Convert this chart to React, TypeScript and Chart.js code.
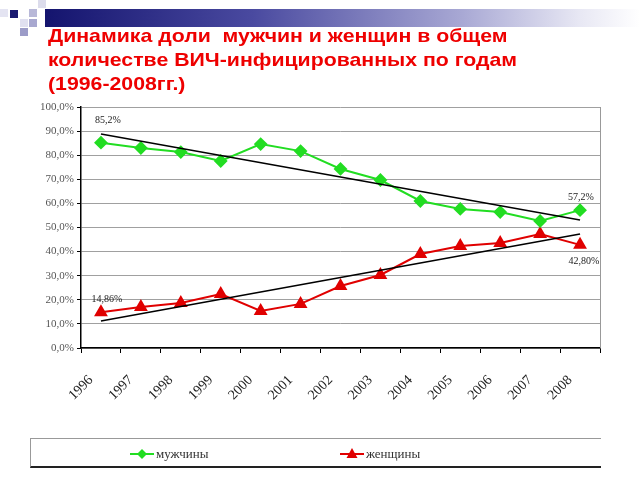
import React, { useEffect, useRef } from "react";
import { Chart, registerables } from "chart.js";

Chart.register(...registerables);

const years = ["1996", "1997", "1998", "1999", "2000", "2001", "2002", "2003", "2004", "2005", "2006", "2007", "2008"];
const men = [85.2, 83.0, 81.3, 77.6, 84.6, 81.7, 74.3, 69.7, 61.0, 57.7, 56.4, 52.7, 57.2];
const women = [14.86, 17.0, 18.7, 22.4, 15.4, 18.3, 25.7, 30.3, 39.0, 42.3, 43.6, 47.3, 42.8];
const menTrend = [88.8, null, null, null, null, null, null, null, null, null, null, null, 53.1];
const womenTrend = [11.2, null, null, null, null, null, null, null, null, null, null, null, 47.3];
const menLabels = ["85,2%", "", "", "", "", "", "", "", "", "", "", "", "57,2%"];
const womenLabels = ["14,86%", "", "", "", "", "", "", "", "", "", "", "", "42,80%"];
const titleLines = ["Динамика доли  мужчин и женщин в общем", "количестве ВИЧ-инфицированных по годам", "(1996-2008гг.)"];
const legendNames = ["мужчины", "женщины"];

const MEN_COLOR = "#22dd22";
const WOMEN_COLOR = "#e00000";

const valueLabels = {
  id: "valueLabels",
  afterDatasetsDraw(chart: any) {
    const ctx = chart.ctx;
    ctx.save();
    ctx.font = '10px "Liberation Serif"';
    ctx.fillStyle = "#222";
    ctx.textAlign = "center";
    ctx.textBaseline = "middle";
    const draw = (dsIndex: number, labels: string[], offs: Record<number, [number, number]>) => {
      const meta = chart.getDatasetMeta(dsIndex);
      labels.forEach((t, i) => {
        if (!t) return;
        const p = meta.data[i];
        const o = offs[i] || [0, -12];
        ctx.fillText(t, p.x + o[0], p.y + o[1]);
      });
    };
    draw(2, menLabels, { 0: [7, -22], 12: [1, -13] });
    draw(3, womenLabels, { 0: [6, -13], 12: [4, 17] });
    ctx.restore();
  },
  beforeDatasetsDraw(chart: any) {
    const { ctx, chartArea } = chart;
    ctx.save();
    ctx.strokeStyle = "#999";
    ctx.lineWidth = 1;
    ctx.beginPath();
    ctx.moveTo(Math.round(chartArea.right) + 0.5, chartArea.top);
    ctx.lineTo(Math.round(chartArea.right) + 0.5, chartArea.bottom);
    ctx.stroke();
    ctx.restore();
  },
};

function Squares() {
  const sq: [number, number, string][] = [
    [0, 9, "#e4e4f2"],
    [10, 10, "#1a1a70"],
    [29, 9, "#b8b8d8"],
    [38, 0, "#dcdcec"],
    [20, 19, "#e0e0f0"],
    [29, 19, "#a8a8d0"],
    [20, 28, "#9c9cc8"],
  ];
  return (
    <>
      {sq.map(([x, y, c], i) => (
        <div key={i} style={{ position: "absolute", left: x, top: y, width: 8, height: 8, background: c }} />
      ))}
    </>
  );
}

function LegendSymbol({ color, kind }: { color: string; kind: "diamond" | "triangle" }) {
  return (
    <svg width={24} height={12} style={{ verticalAlign: "middle" }}>
      <line x1={0} y1={6} x2={24} y2={6} stroke={color} strokeWidth={2} />
      {kind === "diamond" ? (
        <polygon points="12,1 17,6 12,11 7,6" fill={color} />
      ) : (
        <polygon points="12,0 17.5,10 6.5,10" fill={color} />
      )}
    </svg>
  );
}

export default function App() {
  const ref = useRef<HTMLCanvasElement>(null);
  useEffect(() => {
    if (!ref.current) return;
    const chart = new Chart(ref.current, {
      type: "line",
      data: {
        labels: years,
        datasets: [
          { label: "trend m", data: menTrend, borderColor: "#000", borderWidth: 1.5, pointRadius: 0, spanGaps: true },
          { label: "trend w", data: womenTrend, borderColor: "#000", borderWidth: 1.5, pointRadius: 0, spanGaps: true },
          {
            label: legendNames[0],
            data: men,
            borderColor: MEN_COLOR,
            backgroundColor: MEN_COLOR,
            borderWidth: 2,
            pointStyle: "rectRot",
            pointRadius: 5.5,
          },
          {
            label: legendNames[1],
            data: women,
            borderColor: WOMEN_COLOR,
            backgroundColor: WOMEN_COLOR,
            borderWidth: 2,
            pointStyle: "triangle",
            pointRadius: 6,
          },
        ],
      },
      options: {
        animation: false,
        responsive: false,
        layout: { padding: { left: 31, top: 107, right: 40, bottom: 72 } },
        plugins: { legend: { display: false }, tooltip: { enabled: false } },
        scales: {
          x: {
            type: "category",
            offset: true,
            afterFit: (s: any) => {
              s.height = 60;
              s.paddingLeft = 0;
              s.paddingRight = 0;
            },
            grid: { display: true, drawOnChartArea: false, offset: true, color: "#000", tickLength: 5 },
            border: { color: "#000", width: 1.5 },
            ticks: {
              minRotation: 45,
              maxRotation: 45,
              autoSkip: false,
              labelOffset: -10,
              padding: 19,
              color: "#222",
              font: { family: '"Liberation Serif"', size: 14 },
            },
          },
          y: {
            min: 0,
            max: 100,
            afterFit: (s: any) => {
              s.width = 50;
              s.paddingTop = 0;
              s.paddingBottom = 0;
            },
            grid: { color: "#a0a0a0", lineWidth: 1, tickColor: "#000", tickLength: 4 },
            border: { color: "#000", width: 1.5 },
            ticks: {
              stepSize: 10,
              padding: 3,
              color: "#555",
              font: { family: '"Liberation Serif"', size: 11 },
              callback: (v: any) => Number(v).toFixed(1).replace(".", ",") + "%",
            },
          },
        },
      },
      plugins: [valueLabels],
    });
    return () => chart.destroy();
  }, []);

  return (
    <div style={{ position: "absolute", left: 0, top: 0, width: 640, height: 480, background: "#fff", overflow: "hidden" }}>
      <div
        style={{
          position: "absolute",
          left: 45,
          top: 9,
          width: 595,
          height: 18,
          background: "linear-gradient(to right, #14146e 0%, #4a4aa0 35%, #a8a8d4 70%, #e8e8f4 90%, #ffffff 100%)",
        }}
      />
      <Squares />
      <canvas ref={ref} width={640} height={480} style={{ position: "absolute", left: 0, top: 0 }} />
      <div
        style={{
          position: "absolute",
          left: 48,
          top: 24,
          fontFamily: '"Liberation Sans", Arial, sans-serif',
          fontWeight: "bold",
          fontSize: 19,
          lineHeight: "24px",
          color: "#ee0000",
          whiteSpace: "pre",
          transform: "scaleX(1.12)",
          transformOrigin: "left top",
        }}
      >
        {titleLines.map((l, i) => (
          <div key={i}>{l}</div>
        ))}
      </div>
      <div
        style={{
          position: "absolute",
          left: 30,
          top: 438,
          width: 570,
          height: 27,
          borderTop: "1px solid #999",
          borderLeft: "1px solid #999",
          borderBottom: "2px solid #222",
          fontFamily: '"Liberation Serif", serif',
          fontSize: 13,
          color: "#333",
        }}
      >
        <div style={{ position: "absolute", left: 99, top: 6, whiteSpace: "nowrap" }}>
          <LegendSymbol color={MEN_COLOR} kind="diamond" />
          <span style={{ marginLeft: 2, verticalAlign: "middle" }}>{legendNames[0]}</span>
        </div>
        <div style={{ position: "absolute", left: 309, top: 6, whiteSpace: "nowrap" }}>
          <LegendSymbol color={WOMEN_COLOR} kind="triangle" />
          <span style={{ marginLeft: 2, verticalAlign: "middle" }}>{legendNames[1]}</span>
        </div>
      </div>
    </div>
  );
}
